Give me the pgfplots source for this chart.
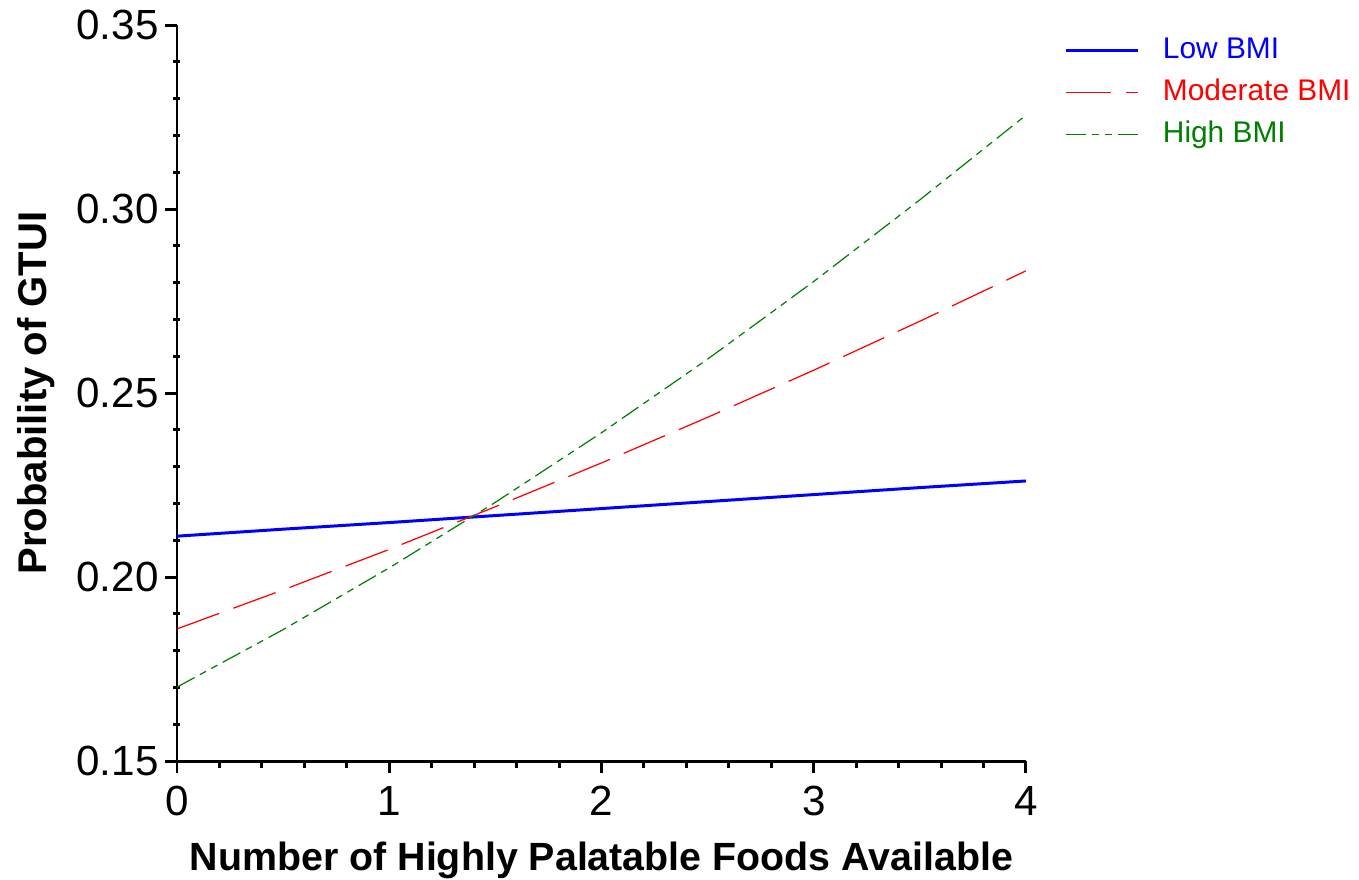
\documentclass[border=0pt]{standalone}
\usepackage{fontspec}
\setmainfont{Liberation Sans}
\usepackage{pgfplots}
\pgfplotsset{compat=1.18}
\definecolor{cblue}{RGB}{0,0,255}
\definecolor{cred}{RGB}{255,0,0}
\definecolor{cgreen}{RGB}{0,128,0}
\begin{document}
\begin{tikzpicture}
\useasboundingbox (-1.77cm,-1.18cm) rectangle (11.82cm,7.61cm);
\begin{axis}[
  scale only axis,
  width=8.49cm, height=7.36cm,
  xmin=0, xmax=4, ymin=0.15, ymax=0.35,
  axis lines=left,
  axis line style={-, line width=0.85pt},
  every outer x axis line/.append style={-},
  every outer y axis line/.append style={-},
  xtick={0,1,2,3,4},
  ytick={0.15,0.20,0.25,0.30,0.35},
  minor x tick num=4,
  minor y tick num=4,
  tick align=outside,
  major tick length=0.12cm,
  minor tick length=0.07cm,
  every tick/.style={black, line width=0.85pt},
  minor y tick style={xshift=0.035cm},
  /pgf/number format/assume math mode=true,
  yticklabel style={/pgf/number format/fixed, /pgf/number format/fixed zerofill, /pgf/number format/precision=2, font=\fontsize{12}{14}\selectfont, xshift=0.06cm},
  xticklabel style={font=\fontsize{12}{14}\selectfont, yshift=-0.01cm},
  scaled y ticks=false,
  xlabel={\textbf{Number of Highly Palatable Foods Available}},
  ylabel={\textbf{Probability of GTUI}},
  xlabel style={font=\fontsize{11.2}{13}\selectfont, yshift=-0.02cm},
  ylabel style={font=\fontsize{11.4}{13}\selectfont},
  ylabel shift=-0.02cm,
  legend cell align=left,
  legend style={draw=none, fill=none, inner sep=0pt, outer sep=0pt,
    at={(1.0459,0.994)}, anchor=north west,
    font=\fontsize{8.5}{10}\selectfont,
    nodes={inner sep=0pt, minimum height=0.42cm},
    /tikz/every odd column/.append style={column sep=0.23cm}},
  legend image code/.code={\draw[#1] (0cm,0cm) -- (0.72cm,0cm);},
]
\addplot[cblue, line width=0.85pt] coordinates {
 (0,0.2111) (0.5,0.2130) (1,0.2148) (1.5,0.2167) (2,0.2186) (2.5,0.2205) (3,0.2224) (3.5,0.2243) (4,0.2261)};
\addlegendentry{\textcolor{cblue}{Low BMI}}
\addplot[cred, line width=0.35pt, dash pattern=on 0.45cm off 0.15cm] coordinates {
 (0,0.1859) (0.5,0.1965) (1,0.2075) (1.5,0.2191) (2,0.2310) (2.5,0.2434) (3,0.2562) (3.5,0.2695) (4,0.2832)};
\addlegendentry{\textcolor{cred}{Moderate BMI}}
\addplot[cgreen, line width=0.35pt, dash pattern=on 0.2cm off 0.06cm on 0.07cm off 0.06cm on 0.07cm off 0.06cm] coordinates {
 (0,0.1701) (0.5,0.1857) (1,0.2025) (1.5,0.2203) (2,0.2392) (2.5,0.2592) (3,0.2803) (3.5,0.3025) (4,0.3255)};
\addlegendentry{\textcolor{cgreen}{High BMI}}
\end{axis}
\end{tikzpicture}
\end{document}
